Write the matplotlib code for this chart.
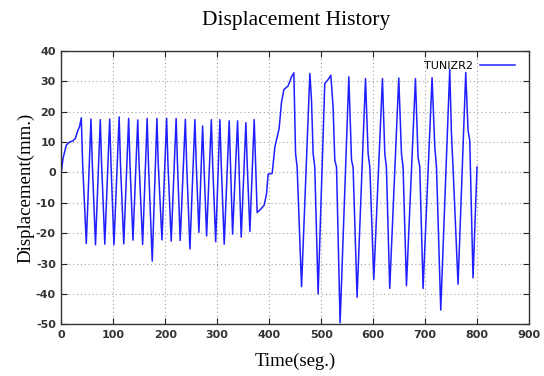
import matplotlib

matplotlib.use("Agg")
import matplotlib.pyplot as plt


SERIES_NAME = "TUNIZR2"

TIME = [
    0, 3.3, 9.6, 16, 22.5, 27, 32, 35,
    38.5, 41, 48.1,
    57.1, 59.6, 65.8,
    75, 77.5, 83.7,
    93.1, 95.6, 101.3,
    111.3, 113.8, 120.2,
    129.6, 132.1, 137.9,
    147.1, 149.6, 156.5,
    165.2, 167.7, 175,
    184, 186.5, 193.7,
    202.7, 205.2, 211.5,
    221, 223.5, 228.8,
    238.7, 241.2, 247.5,
    257.1, 259.6, 264.8,
    271.9, 274.4, 279.6,
    288.7, 291.2, 297.1,
    305.2, 307.7, 313.5,
    323.1, 325.6, 329.6,
    339.2, 341.7, 346.2,
    355.2, 357.7, 362.9,
    371.2, 374.4, 376.9,
    382, 390.4, 395, 398, 405.8, 411, 419.2, 423.8, 428.3, 436.5, 443,
    447.5, 450.8, 453.8, 462.3,
    478.3, 481.5, 484.6, 487.8, 494.2,
    507, 513.5, 518.7, 523, 526.3, 529.6, 536.5,
    553.3, 558.5, 561.5, 569.2,
    585.4, 590.4, 593.7, 601.3,
    618, 622.5, 625.6, 632,
    649.4, 654.6, 657.7, 664.2,
    681.5, 686.5, 689.8, 696.2,
    713.5, 718.7, 722, 730.2,
    747.5, 750.8, 753.8, 763.5,
    778.3, 782.7, 786, 792.3,
    800,
]

DISP = [
    0, 4.6, 9, 10, 10.4, 11.2, 13.9, 15,
    18, 3, -23.4,
    17.6, 3, -23.8,
    17.4, 3, -23.6,
    17.6, 3, -23.8,
    18.3, 3, -23.5,
    17.8, 3, -22.3,
    17.3, 3, -23.7,
    17.8, 3, -29.2,
    17.8, 3, -22.2,
    17.8, 3, -22.6,
    17.8, 3, -22.4,
    17.5, 3, -25.2,
    17.4, 3, -19.7,
    15.3, 3, -20.9,
    17.4, 3, -22.8,
    17.4, 3, -23.6,
    17.0, 3, -20.3,
    17.0, 3, -21.3,
    16.4, 3, -19.4,
    17.4, 0.8, -13.2,
    -12.4, -10.8, -6.9, -0.6, -0.3, 8.4, 14.5, 23.2, 27.3, 28.5, 31.5,
    32.8, 6.2, 1.8, -37.6,
    32.6, 23.8, 6.2, 1.8, -40.0,
    29.3, 30.6, 32.0, 21.6, 4.0, 1.8, -49.5,
    31.5, 4.0, 1.8, -41.1,
    30.9, 6.2, 1.8, -35.2,
    30.9, 6.2, 1.8, -38.2,
    31.1, 6.2, 1.8, -37.3,
    30.9, 5.1, 1.8, -38.2,
    31.2, 8.4, 1.8, -45.3,
    33.9, 12.8, 1.8, -36.8,
    32.9, 13.9, 10.6, -34.7,
    1.8,
]

X_TICKS = [0, 100, 200, 300, 400, 500, 600, 700, 800, 900]
Y_TICKS = [-50, -40, -30, -20, -10, 0, 10, 20, 30, 40]


def plot_displacement_history():
    plt.rcParams["axes.unicode_minus"] = False

    fig = plt.figure(figsize=(5.44, 3.76), dpi=100)
    ax = fig.add_axes([0.1127, 0.1375, 0.8597, 0.7269])

    ax.plot(TIME, DISP, color="#1f1fff", linewidth=1.1, label=SERIES_NAME)

    ax.set_xlim(0, 900)
    ax.set_ylim(-50, 40)
    ax.set_xticks(X_TICKS)
    ax.set_yticks(Y_TICKS)
    ax.grid(True, linestyle=(0, (1, 2.5)), linewidth=0.8, color="#a0a0a0")

    ax.tick_params(direction="in", length=4, width=0.8, top=True, right=True,
                   labelsize=8, colors="#222222", pad=4)
    for lab in ax.get_xticklabels() + ax.get_yticklabels():
        lab.set_fontweight("bold")
        lab.set_color("#333333")
    for spine in ax.spines.values():
        spine.set_linewidth(1.0)
        spine.set_color("#333333")

    serif = ["Liberation Serif", "DejaVu Serif"]
    fig.text(0.544, 0.945, "Displacement History", ha="center", va="center",
             fontsize=15.5, family=serif)
    ax.set_xlabel("Time(seg.)", fontsize=13.5, family=serif, labelpad=9)
    ax.set_ylabel("Displacement(mm.)", fontsize=13.6, family=serif, labelpad=1)

    ax.legend(loc="upper right", frameon=False, markerfirst=False, fontsize=8,
              handlelength=3.2, handletextpad=0.6, borderaxespad=0.4,
              bbox_to_anchor=(0.99, 0.995))

    fig.savefig("out.png", dpi=100, facecolor="white")
    plt.close(fig)


if __name__ == "__main__":
    plot_displacement_history()
